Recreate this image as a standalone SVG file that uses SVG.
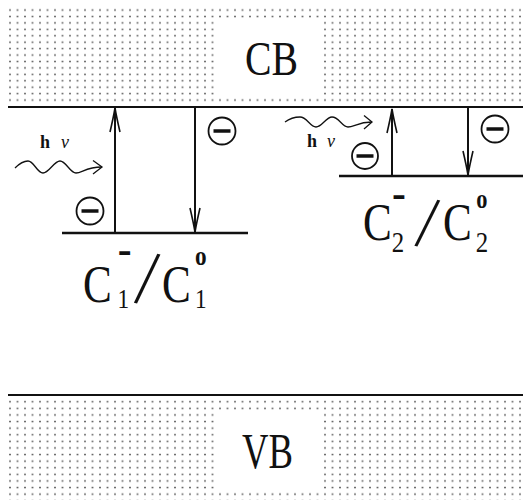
<svg xmlns="http://www.w3.org/2000/svg" width="523" height="500" viewBox="0 0 523 500">
<style>
.lbl{font-family:"Liberation Serif","Times New Roman",serif;fill:#111}
.lvl{stroke:#111;stroke-width:2.4;fill:none}
.band{stroke:#111;stroke-width:2;fill:none}
.arr{stroke:#111;stroke-width:2;fill:none}
.wave{stroke:#111;stroke-width:1.3;fill:none}
.el circle{fill:#fff;stroke:#111;stroke-width:1.8}
.el line{stroke:#111;stroke-width:3.5}
</style>
<defs>
<pattern id="dotsCB" patternUnits="userSpaceOnUse" x="6.25" y="6.8" width="7.5" height="6.43">
<rect x="3" y="2.5" width="1.5" height="1.5" fill="#444"/>
</pattern>
<pattern id="dotsVB" patternUnits="userSpaceOnUse" x="6.25" y="398.4" width="7.5" height="6.6">
<rect x="3" y="2.6" width="1.5" height="1.5" fill="#444"/>
</pattern>
<marker id="ah" viewBox="-26 -7 28 14" refX="0" refY="0" markerWidth="28" markerHeight="14" markerUnits="userSpaceOnUse" orient="auto">
<path d="M-24,-5 Q-9,-1.5 0,0 Q-9,1.5 -24,5" fill="none" stroke="#111" stroke-width="1.6"/>
</marker>
</defs>
<rect width="523" height="500" fill="#fff"/>

<g id="cb">
<rect x="8" y="7" width="515" height="96" fill="url(#dotsCB)"/>
<rect x="219" y="20" width="105" height="76" fill="#fff"/>
<text class="lbl" x="245" y="75" font-size="48" textLength="53" lengthAdjust="spacingAndGlyphs">CB</text>
<line class="band" x1="8" y1="107" x2="523" y2="107"/>
</g>

<g id="vb">
<line class="band" x1="8" y1="395" x2="523" y2="395"/>
<rect x="8" y="399" width="515" height="101" fill="url(#dotsVB)"/>
<rect x="219" y="412" width="105" height="78" fill="#fff"/>
<text class="lbl" x="242" y="468" font-size="50" textLength="51" lengthAdjust="spacingAndGlyphs">VB</text>
</g>

<g id="c1">
<line class="lvl" x1="62" y1="233" x2="248" y2="233"/>
<text class="lbl" transform="translate(83,302) scale(0.83,1)"><tspan x="0" y="0" font-size="52">C</tspan><tspan x="42" y="-37" font-size="50">-</tspan><tspan x="41.5" y="6" font-size="28">1</tspan><tspan x="61.5" y="0" font-size="80" rotate="11">/</tspan><tspan x="95.2" y="0" font-size="52">C</tspan><tspan x="135" y="-37" font-size="28" font-weight="bold">o</tspan><tspan x="135" y="6" font-size="28">1</tspan></text>
</g>

<g id="c2">
<line class="lvl" x1="339" y1="176" x2="523" y2="176"/>
<text class="lbl" transform="translate(363,240) scale(0.83,1)"><tspan x="0" y="0" font-size="52">C</tspan><tspan x="35" y="-31" font-size="50">-</tspan><tspan x="34.5" y="12" font-size="30">2</tspan><tspan x="62" y="5" font-size="76" rotate="12">/</tspan><tspan x="96.4" y="0" font-size="52">C</tspan><tspan x="136.5" y="-32" font-size="27" font-weight="bold">o</tspan><tspan x="136" y="12" font-size="30">2</tspan></text>
</g>

<g id="photon1">
<text class="lbl" x="40" y="148" font-size="18"><tspan font-weight="bold">h</tspan><tspan x="61" font-style="italic">ν</tspan></text>
<path class="wave" d="M15,168 C20,163 24,161 28,161 C34,161 37,173 43,173 C49,173 54,161 60,161 C66,161 70,173 76,173 C82,173 86,167 102,167"/>
<path class="wave" d="M93,160.5 L102,167 L93,174"/>
</g>

<g id="photon2">
<text class="lbl" x="307" y="147" font-size="18"><tspan font-weight="bold">h</tspan><tspan x="327" font-style="italic">ν</tspan></text>
<path class="wave" d="M285,122 C289,119 295,117 300,117 C307,117 310,127 316,127 C322,127 326,117 332,117 C339,117 342,127 348,127 C354,127 358,122 372,122"/>
<path class="wave" d="M364,115.5 L372,122 L364,129"/>
</g>

<g id="e1" class="el"><circle cx="90" cy="211" r="13.5"/><line x1="81.5" y1="211" x2="98.5" y2="211"/></g>
<g id="e2" class="el"><circle cx="222" cy="131" r="13.5"/><line x1="213.5" y1="131" x2="230.5" y2="131"/></g>
<g id="e3" class="el"><circle cx="365" cy="156" r="13"/><line x1="356.5" y1="156" x2="373.5" y2="156"/></g>
<g id="e4" class="el"><circle cx="495" cy="129" r="13.5"/><line x1="486.5" y1="129" x2="503.5" y2="129"/></g>

<g id="connectors">
<line class="arr" x1="115" y1="233" x2="115" y2="108" marker-end="url(#ah)"/>
<line class="arr" x1="195" y1="107" x2="195" y2="232" marker-end="url(#ah)"/>
<line class="arr" x1="392" y1="176" x2="392" y2="109" marker-end="url(#ah)"/>
<line class="arr" x1="468" y1="107" x2="468" y2="175" marker-end="url(#ah)"/>
</g>
</svg>
